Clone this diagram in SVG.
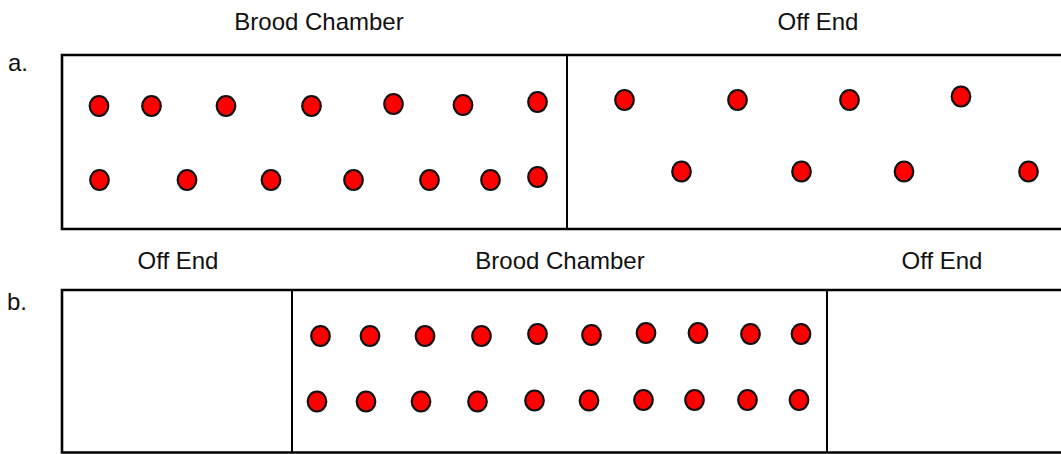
<svg xmlns="http://www.w3.org/2000/svg" width="1061" height="454" viewBox="0 0 1061 454">
<style>
.lbl{font-family:"Liberation Sans",Arial,sans-serif;font-size:24px;fill:#111;text-anchor:middle}
.tag{font-family:"Liberation Sans",Arial,sans-serif;font-size:24px;fill:#111}
.box{fill:none;stroke:#000;stroke-width:2.6}
.div{stroke:#000;stroke-width:2}
.dot{fill:#ff0000;stroke:#111;stroke-width:2.2}
</style>
<defs>
<ellipse id="d" class="dot" cx="0" cy="0" rx="9.3" ry="10"/>
</defs>
<rect width="1061" height="454" fill="#fff"/>

<g id="panel-a">
  <text class="tag" x="8" y="71">a.</text>
  <text class="lbl" x="319" y="30">Brood Chamber</text>
  <text class="lbl" x="818" y="30">Off End</text>
  <path class="box" d="M1064,55 H62 V229 H1064"/>
  <line class="div" x1="567" y1="55" x2="567" y2="229"/>
  <g id="a-brood-dots">
    <use href="#d" x="99" y="106"/>
    <use href="#d" x="151.5" y="106"/>
    <use href="#d" x="226" y="106"/>
    <use href="#d" x="311.5" y="106"/>
    <use href="#d" x="393.5" y="104"/>
    <use href="#d" x="463" y="105"/>
    <use href="#d" x="537.5" y="102"/>
    <use href="#d" x="99.5" y="180"/>
    <use href="#d" x="187" y="180"/>
    <use href="#d" x="271" y="180"/>
    <use href="#d" x="353.5" y="180"/>
    <use href="#d" x="429.5" y="180"/>
    <use href="#d" x="490.5" y="180"/>
    <use href="#d" x="537.5" y="177"/>
  </g>
  <g id="a-offend-dots">
    <use href="#d" x="624.5" y="100"/>
    <use href="#d" x="737.5" y="100"/>
    <use href="#d" x="849.5" y="100"/>
    <use href="#d" x="961" y="96.5"/>
    <use href="#d" x="681.5" y="171.5"/>
    <use href="#d" x="801.5" y="171.5"/>
    <use href="#d" x="904" y="171.5"/>
    <use href="#d" x="1028.5" y="171.5"/>
  </g>
</g>

<g id="panel-b">
  <text class="tag" x="7" y="310">b.</text>
  <text class="lbl" x="178" y="269">Off End</text>
  <text class="lbl" x="560" y="269">Brood Chamber</text>
  <text class="lbl" x="942" y="269">Off End</text>
  <path class="box" d="M1064,290 H62 V452.5 H1064"/>
  <line class="div" x1="292" y1="290" x2="292" y2="452"/>
  <line class="div" x1="827" y1="290" x2="827" y2="452"/>
  <g id="b-brood-dots">
    <use href="#d" x="320.5" y="336"/>
    <use href="#d" x="370" y="336"/>
    <use href="#d" x="425" y="336"/>
    <use href="#d" x="481.5" y="336"/>
    <use href="#d" x="537.5" y="334"/>
    <use href="#d" x="591.5" y="335"/>
    <use href="#d" x="646" y="333"/>
    <use href="#d" x="698" y="333"/>
    <use href="#d" x="750.5" y="334"/>
    <use href="#d" x="801" y="334"/>
    <use href="#d" x="317" y="401.5"/>
    <use href="#d" x="366" y="401.5"/>
    <use href="#d" x="421" y="401.5"/>
    <use href="#d" x="477.5" y="401.5"/>
    <use href="#d" x="534.5" y="400.5"/>
    <use href="#d" x="589" y="400.5"/>
    <use href="#d" x="643.5" y="400"/>
    <use href="#d" x="694.5" y="400"/>
    <use href="#d" x="747.5" y="400"/>
    <use href="#d" x="799" y="400"/>
  </g>
</g>
</svg>
